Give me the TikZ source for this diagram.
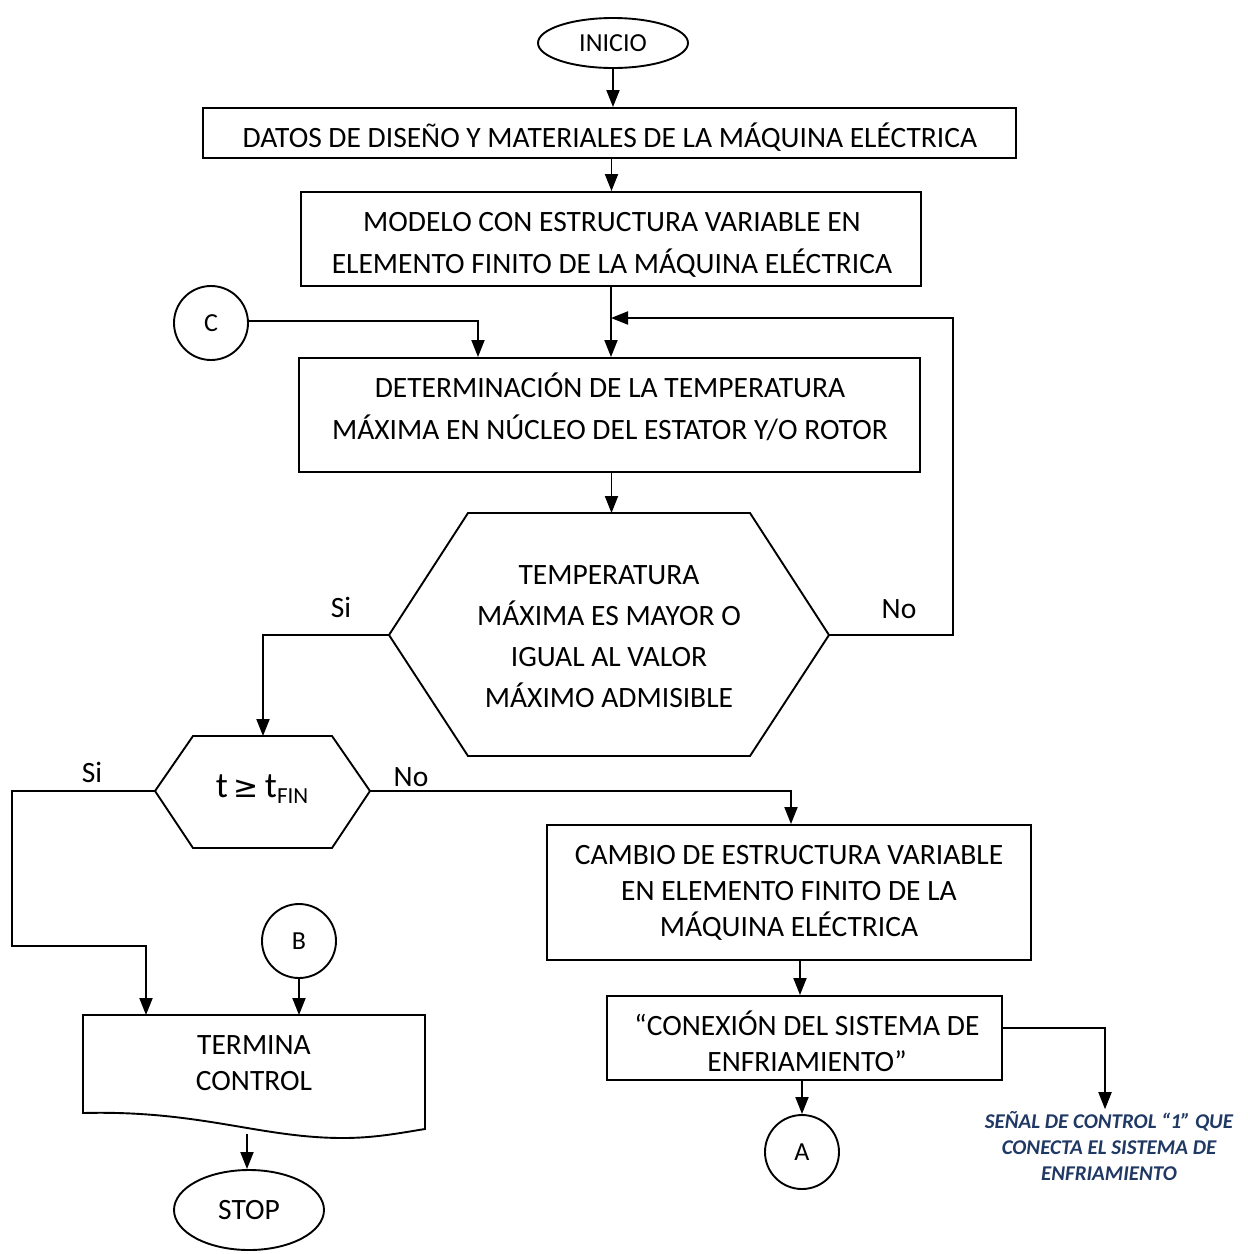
\documentclass[tikz,border=0pt]{standalone}
\usepackage{fontspec}
\setmainfont{Carlito}
\newfontfamily\symfont{DejaVu Sans}
\usetikzlibrary{arrows.meta,shapes.geometric}
\definecolor{notecol}{RGB}{31,56,100}
\tikzset{
  line/.style={line width=1.9pt},
  arr/.style={line, -{Triangle[width=13pt,length=17pt]}},
  txt/.style={inner sep=0pt, align=center, font=\fontsize{29.5}{42}\selectfont},
  txtsingle/.style={inner sep=0pt, align=center, font=\fontsize{29.5}{36}\selectfont},
  box/.style={draw, line width=1.9pt, inner sep=0pt},
  terminal/.style={draw, ellipse, line width=1.9pt, inner sep=0pt},
  connector/.style={draw, circle, line width=1.9pt, inner sep=0pt, minimum size=74pt, font=\fontsize{26}{30}\selectfont},
  lbl/.style={inner sep=0pt, font=\fontsize{29.5}{34}\selectfont},
  notetext/.style={inner sep=2pt, align=center, text=notecol, font=\fontsize{21}{26}\selectfont\bfseries\itshape},
}
\begin{document}
\begin{tikzpicture}[x=1pt,y=-1pt]
\path[use as bounding box] (0,0) rectangle (1248,1254);

% start
\node[terminal, minimum width=150pt, minimum height=50pt, font=\fontsize{26}{30}\selectfont] (inicio) at (613,43) {INICIO};

% process boxes with their texts
\node[box, minimum width=813pt, minimum height=50pt] (datos) at (609.5,133) {};
\node[txt] (datosT) at (610,137) {DATOS DE DISEÑO Y MATERIALES DE LA MÁQUINA ELÉCTRICA};

\node[box, minimum width=620pt, minimum height=94pt] (modelo) at (611,239) {};
\node[txt] (modeloT) at (612,245)
  {MODELO CON ESTRUCTURA VARIABLE EN\\ELEMENTO FINITO DE LA MÁQUINA ELÉCTRICA};

\node[connector] (c) at (211,323) {C};

\node[box, minimum width=621pt, minimum height=114pt] (determ) at (609.5,415) {};
\node[txt] (determT) at (610,407)
  {DETERMINACIÓN DE LA TEMPERATURA\\MÁXIMA EN NÚCLEO DEL ESTATOR Y/O ROTOR};

% main decision (hexagon)
\coordinate (hexL) at (389,635);
\coordinate (hexR) at (829,635);
\coordinate (hexTop) at (609.5,513);
\draw[line] (hexL) -- (468,513) -- (750,513) -- (hexR) -- (750,756) -- (468,756) -- cycle;
\node[txt, font=\fontsize{29.5}{41}\selectfont] (hexT) at (609,637)
  {TEMPERATURA\\MÁXIMA ES MAYOR O\\IGUAL AL VALOR\\MÁXIMO ADMISIBLE};

% time decision (small hexagon)
\coordinate (tL) at (155,791);
\coordinate (tR) at (370,791);
\coordinate (tTop) at (263,736);
\draw[line] (tL) -- (193,736) -- (332,736) -- (tR) -- (332,848) -- (193,848) -- cycle;
\node[inner sep=0pt, font=\fontsize{36}{40}\selectfont] (tcond) at (262,789)
  {t\,{\symfont\fontsize{30}{34}\selectfont ≥}\,t\raisebox{-6pt}{\fontsize{23}{26}\selectfont FIN}};

% right branch
\node[box, minimum width=484pt, minimum height=135pt] (cambio) at (789,892.5) {};
\node[txtsingle] (cambioT) at (789,893)
  {CAMBIO DE ESTRUCTURA VARIABLE\\EN ELEMENTO FINITO DE LA\\MÁQUINA ELÉCTRICA};
\node[box, minimum width=395pt, minimum height=84pt] (conex) at (804.5,1038) {};
\node[txtsingle] (conexT) at (807,1041)
  {“CONEXIÓN DEL SISTEMA DE\\ENFRIAMIENTO”};
\node[connector] (a) at (802,1152) {A};
\node[notetext] (note) at (1109,1146)
  {SEÑAL DE CONTROL “1” QUE\\CONECTA EL SISTEMA DE\\ENFRIAMIENTO};

% left branch: end of control
\node[connector] (b) at (299,941) {B};
\coordinate (termTop) at (254,1015);
\coordinate (termB) at (247,1134);
\draw[line] (83,1015) -- (425,1015) -- (425,1129)
  .. controls (400,1133) and (375,1138) .. (343,1138)
  .. controls (260,1138) and (200,1110) .. (83,1113) -- cycle;
\node[txtsingle] (termina) at (254,1063) {TERMINA\\CONTROL};
\node[terminal, minimum width=150pt, minimum height=80pt, font=\fontsize{29.5}{34}\selectfont] (stop) at (249,1210) {STOP};

% branch labels
\node[lbl] (siA) at (341,607) {Si};
\node[lbl] (noA) at (899,609) {No};
\node[lbl] (siB) at (92,772) {Si};
\node[lbl] (noB) at (411,777) {No};

% connectors
\draw[arr] (inicio.south) -- (inicio.south |- datos.north);
\draw[arr] ([xshift=2pt]datos.south) -- ([xshift=2pt]datos.south |- modelo.north);
\draw[arr] (modelo.south) -- (modelo.south |- determ.north);
\coordinate (fbR) at (953,318);
\draw[arr] (hexR) -- (hexR -| fbR) -- (fbR) -- (fbR -| modelo.south);
\coordinate (cTurn) at (478,321);
\draw[arr] (c.east |- cTurn) -- (cTurn) -- (cTurn |- determ.north);
\draw[arr] ([xshift=2pt]determ.south) -- ([xshift=2pt]determ.south |- hexTop);
\coordinate (siTurn) at (263,635);
\draw[arr] (hexL) -- (siTurn) -- (siTurn |- tTop);
\coordinate (s1) at (12,791);
\coordinate (s2) at (12,946);
\coordinate (s3) at (146,946);
\draw[arr] (tL) -- (s1) -- (s2) -- (s3) -- (s3 |- termTop);
\draw[arr] (b.south) -- (b.south |- termTop);
\coordinate (noTurn) at (791,791);
\draw[arr] (tR) -- (noTurn) -- (noTurn |- cambio.north);
\draw[arr] ([xshift=11pt]cambio.south) -- ([xshift=11pt]cambio.south |- conex.north);
\coordinate (nTurn) at (1105,1028);
\draw[arr] (conex.east |- nTurn) -- (nTurn) -- (nTurn |- note.north);
\draw[arr] (conex.south -| a.north) -- (a.north);
\draw[arr] (termB) -- (termB |- stop.north);
\end{tikzpicture}
\end{document}
